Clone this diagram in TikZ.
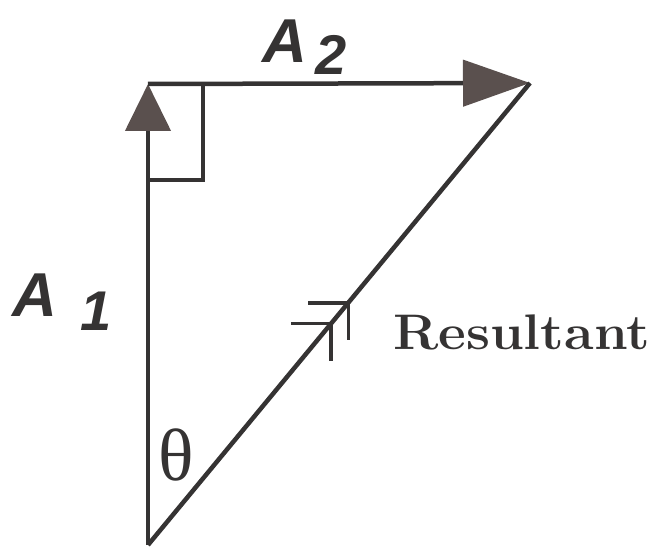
\documentclass[tikz,border=0pt]{standalone}
\usepackage{fontspec}
\usepackage{graphicx}
\usetikzlibrary{arrows.meta,positioning}
\newfontfamily\vecfont{Liberation Sans}
\newfontfamily\greekfont{Liberation Serif}
\definecolor{inkline}{HTML}{353333}
\definecolor{inkhead}{HTML}{5A504E}

\begin{document}
\begin{tikzpicture}[x=1pt, y=1pt, >=Latex]

\tikzset{
  side/.style={draw=inkline, line width=4.5pt, line cap=butt},
  headup/.style={-{Triangle[length=47pt, width=45pt, color=inkhead]}},
  headright/.style={-{Triangle[length=67pt, width=46pt, color=inkhead]}},
  corner box/.style={draw=inkline, line width=3.5pt},
  barb/.style={draw=inkline, line width=3.2pt},
  veclabel/.style={anchor=base west, inner sep=0pt,
    font=\vecfont\bfseries\itshape\fontsize{62}{64}\selectfont, text=inkline},
  textlabel/.style={anchor=base west, inner sep=0pt,
    font=\bfseries\fontsize{50}{60}\selectfont, text=inkline}
}

\useasboundingbox (0,0) rectangle (654,558);

% ==========================
% Triangle of vectors
% ==========================
\coordinate (base) at (148,13);
\coordinate (corner) at (148,474);
\coordinate (tip) at (530,475);

\draw[side, headup] (base) -- (corner);
\draw[side, headright] (corner) -- (tip);
\draw[side] (base) -- (tip);

% right angle mark
\draw[corner box] (203,474) |- (148,378);

% double barb on the resultant
\path (base) -- (tip) coordinate[pos=0.479] (m1) coordinate[pos=0.524] (m2);
\foreach \m in {m1,m2}
  \draw[barb] ([xshift=-40pt]\m) -- (\m) -- ([yshift=-37pt]\m);

% ==========================
% Labels
% ==========================
\node[veclabel] (a1) at (12,241) {A\hspace{24pt}\raisebox{-13pt}{\fontsize{56}{60}\selectfont 1}};
\node[veclabel] (a2) at (262,495) {A\hspace{9pt}\raisebox{-12pt}{\fontsize{56}{60}\selectfont 2}};
\node[anchor=base west, inner sep=0pt, text=inkline,
  font=\greekfont\fontsize{74}{76}\selectfont] (theta) at (158,78) {θ};
\node[textlabel] (res) at (393,208) {\scalebox{1.08}[1]{Resultant}};

\end{tikzpicture}
\end{document}
